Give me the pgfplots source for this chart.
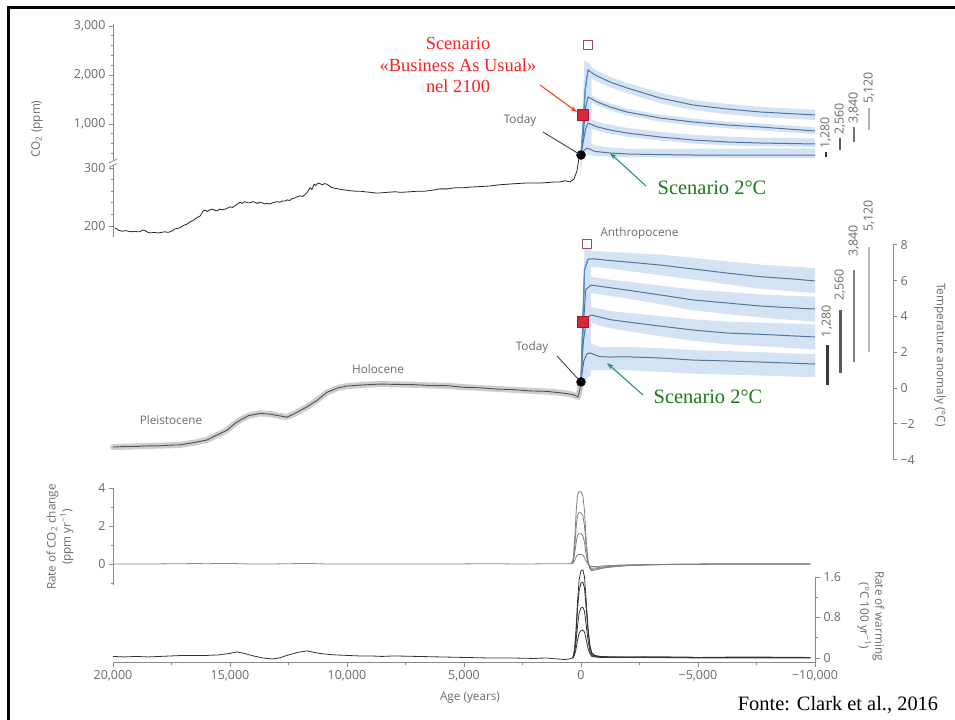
\documentclass[border=0pt]{standalone}
\usepackage{pgfplots}
\pgfplotsset{compat=1.18}
\usepackage{fontspec}
\setmainfont{Liberation Serif}
\newfontfamily\sansax{Open Sans}
\usetikzlibrary{arrows.meta}

\definecolor{axgray}{HTML}{8A8A8A}
\definecolor{labgray}{HTML}{6B6B6B}
\definecolor{scen}{HTML}{52739C}
\definecolor{band}{HTML}{D4E3F4}
\definecolor{risecol}{HTML}{4A8FDB}
\definecolor{redsq}{HTML}{D8283A}
\definecolor{redsqedge}{HTML}{A01828}
\definecolor{hollowsq}{HTML}{A0505C}
\definecolor{tealarrow}{HTML}{2E8A90}
\definecolor{greentxt}{HTML}{1A7A1A}
\definecolor{redtxt}{HTML}{FF1F1F}
\definecolor{redarrow}{HTML}{F2461E}
\definecolor{histband}{HTML}{CDCDCD}
\definecolor{histline}{HTML}{505050}

\newcommand{\tickfont}{\sansax\fontsize{12.5}{14}\selectfont}
\newcommand{\labfont}{\sansax\fontsize{11.8}{15}\selectfont}
\newcommand{\annfont}{\fontsize{18.5}{22}\selectfont}
\newcommand{\grfont}{\fontsize{20.5}{24}\selectfont}

\pgfplotsset{
  panel/.style={scale only axis, width=702bp, xmin=-20000, xmax=10000, clip=false, anchor=south west,
    axis line style={axgray, line width=0.8bp},
    tick style={axgray, line width=0.7bp},
    tick align=outside, major tick length=4bp, minor tick length=2.5bp,
    tick label style={font=\tickfont, text=labgray},
    scaled x ticks=false, scaled y ticks=false,
    /pgf/number format/assume math mode=true},
  /pgfplots/table/co2/.style={/pgfplots/table/x expr=-\thisrow{age},
    /pgfplots/table/y expr={\thisrow{ppm}<300.5 ? (\thisrow{ppm}-200)*0.58 : 53+0.049*\thisrow{ppm}}},
  /pgfplots/table/ag/.style={/pgfplots/table/x expr=-\thisrow{age}, /pgfplots/table/y=#1},
}

\begin{document}
\begin{tikzpicture}
\useasboundingbox (0,0) rectangle (955bp,720bp);
\fill[white] (0,0) rectangle (955bp,720bp);

%================ Panel 1: CO2 ================
\begin{axis}[panel, at={(113bp,483bp)}, height=213bp, ymin=-11, ymax=202,
  axis x line=none, axis y line*=left,
  ytick={0,58,102,151,200}, yticklabels={200,300,{1,000},{2,000},{3,000}},
  minor ytick={11.6,23.2,34.8,46.4,72.6,82.4,92.2,111.8,121.6,131.4,141.2,160.8,170.6,180.4,190.2}]
% bands
\addplot[fill=band, draw=none] table[co2] {
age ppm
-200 2250
-299 2210
-600 2110
-1240 1960
-1966 1840
-3376 1640
-4786 1490
-6239 1410
-7650 1350
-10000 1290
-10000 1080
-7650 1140
-6239 1200
-4786 1285
-3376 1425
-1966 1630
-1240 1750
-600 1890
-299 1990
-200 1900
};
\addplot[fill=band, draw=none] table[co2] {
age ppm
-200 1450
-299 1620
-700 1520
-1240 1420
-1966 1315
-3376 1190
-4786 1110
-6239 1050
-7650 1010
-10000 930
-10000 790
-7650 870
-6239 910
-4786 970
-3376 1050
-1966 1175
-1240 1280
-700 1380
-299 1480
-200 1250
};
\addplot[fill=band, draw=none] table[co2] {
age ppm
-200 1000
-299 1120
-700 1040
-1240 985
-1966 920
-3376 840
-4786 780
-6239 745
-7650 720
-10000 705
-10000 530
-7650 545
-6239 565
-4786 600
-3376 665
-1966 740
-1240 800
-700 860
-299 930
-200 800
};
\addplot[fill=band, draw=none] table[co2] {
age ppm
-150 560
-256 620
-600 560
-1240 520
-1966 500
-3376 495
-4786 495
-7650 500
-10000 505
-10000 310
-7650 310
-4786 312
-3376 315
-1966 320
-1240 330
-600 345
-256 380
-150 340
};
\addplot[fill=band, draw=none] table[co2] {
age ppm
30 285
-60 1200
-150 2300
-450 2200
-450 450
-100 340
0 300
};
% historical CO2
\addplot[color=black!85, line width=0.8bp] table[co2] {
age ppm
19915 197
19786 193
19615 191
19450 192
19359 191
19200 190
19103 191
18950 190
18846 190
18720 193
18632 192
18500 189
18419 188
18250 189
18077 188
17930 189
17778 190
17650 189
17564 190
17450 192
17350 195
17237 196
17137 197
17030 200
16923 202
16800 204
16709 207
16600 209
16496 212
16390 215
16282 217
16200 222
16154 226
16050 227
15960 225
15855 228
15750 229
15650 227
15556 226
15450 229
15340 228
15214 229
15100 231
15000 233
14890 232
14786 235
14680 238
14573 241
14470 239
14380 242
14231 240
14130 240
14030 242
13932 241
13830 239
13732 241
13632 240
13520 238
13400 239
13291 238
13180 240
13090 241
12991 242
12880 241
12760 243
12650 243
12550 245
12450 244
12350 247
12250 248
12150 250
12009 252
11900 251
11795 254
11700 258
11581 266
11500 263
11410 272
11330 270
11239 274
11150 273
11068 271
10960 273
10855 272
10750 269
10641 266
10520 265
10385 264
10240 263
10085 262
9900 261
9658 260
9450 260
9231 259
9000 258
8800 257
8590 257
8300 258
7949 259
7700 258
7308 259
7000 260
6667 260
6300 262
6026 264
5700 264
5385 266
5000 266
4744 267
4300 268
3889 269
3500 271
3162 272
2800 273
2393 274
2000 274
1752 274
1400 275
1111 276
900 276
684 278
470 276
299 281
171 295
85 320
0 367
};
% scenario curves
\addplot[scen, line width=1bp] table[co2] {
age ppm
0 367
-80 900
-180 1700
-299 2102
-600 2000
-1240 1857
-1966 1735
-3376 1531
-4786 1388
-6239 1306
-7650 1245
-10000 1184
};
\addplot[scen, line width=1bp] table[co2] {
age ppm
0 367
-100 800
-200 1350
-299 1551
-700 1450
-1240 1347
-1966 1245
-3376 1122
-4786 1041
-6239 980
-7650 939
-10000 857
};
\addplot[scen, line width=1bp] table[co2] {
age ppm
0 367
-100 650
-200 900
-299 1020
-700 940
-1240 878
-1966 816
-3376 735
-4786 673
-6239 633
-7650 612
-10000 592
};
\addplot[scen, line width=1bp] table[co2] {
age ppm
0 367
-100 450
-256 510
-600 440
-1240 408
-1966 388
-3376 375
-4786 367
-7650 365
-10000 365
};
\addplot[risecol, line width=1.2bp] table[co2] {
age ppm
0 367
-80 900
-180 1700
-299 2102
};
% markers
\addplot[only marks, mark=square*, mark size=5.5bp, mark options={fill=redsq, draw=redsqedge, line width=0.6bp}] table[co2] {
age ppm
-85 1184
};
\addplot[only marks, mark=square, mark size=4.8bp, mark options={draw=hollowsq, line width=1.2bp}] table[co2] {
age ppm
-299 2612
};
\addplot[only marks, mark=*, mark size=4.5bp, mark options={fill=black, draw=black}] table[co2] {
age ppm
0 367
};
% emission labels (bars)
\addplot[color=black!80, line width=2.2bp] coordinates {(10453,69) (10453,74)};
\addplot[color=black!65, line width=2.2bp] coordinates {(11068,76) (11068,88)};
\addplot[color=black!55, line width=2bp] coordinates {(11667,84) (11667,99)};
\addplot[color=black!30, line width=1.5bp] coordinates {(12308,96) (12308,118)};
\node[rotate=90, anchor=west, font=\tickfont, text=labgray, inner sep=1bp] at (axis cs:10453,76) {1,280};
\node[rotate=90, anchor=west, font=\tickfont, text=labgray, inner sep=1bp] at (axis cs:11068,90) {2,560};
\node[rotate=90, anchor=west, font=\tickfont, text=labgray, inner sep=1bp] at (axis cs:11667,101) {3,840};
\node[rotate=90, anchor=west, font=\tickfont, text=labgray, inner sep=1bp] at (axis cs:12308,121) {5,120};
\end{axis}

%================ Panel 2: Temperature ================
\begin{axis}[panel, at={(113bp,260.4bp)}, width=780bp, xmax=13333.3, height=214.8bp, ymin=-4, ymax=8,
  axis x line=none, axis y line*=right,
  ytick={-4,-2,0,2,4,6,8}, yticklabels={−4,−2,0,2,4,6,8}]
% historical band + line
\addplot[histband, line width=6bp, line join=round, line cap=round] table[ag=T] {
age T
20000 -3.30
19500 -3.28
19000 -3.26
18500 -3.24
18000 -3.22
17500 -3.20
17137 -3.18
16500 -3.05
16000 -2.90
15500 -2.60
15128 -2.35
14800 -2.00
14573 -1.79
14200 -1.55
13718 -1.42
13291 -1.45
12900 -1.55
12564 -1.62
12200 -1.40
11709 -1.06
11300 -0.70
10855 -0.25
10400 0.00
10000 0.10
9300 0.18
8590 0.22
7900 0.20
7180 0.18
6500 0.15
5726 0.12
5000 0.05
4316 0.00
3600 -0.05
2906 -0.10
2200 -0.15
1453 -0.20
800 -0.27
342 -0.38
128 -0.50
50 -0.10
0 0.34
};
\addplot[histline, line width=0.9bp] table[ag=T] {
age T
20000 -3.30
19500 -3.27
19000 -3.27
18500 -3.23
18000 -3.23
17500 -3.19
17137 -3.18
16500 -3.04
16000 -2.91
15500 -2.59
15128 -2.36
14800 -1.99
14573 -1.80
14200 -1.54
13718 -1.42
13291 -1.46
12900 -1.55
12564 -1.63
12200 -1.40
11709 -1.05
11300 -0.71
10855 -0.24
10400 0.00
10000 0.11
9300 0.17
8590 0.22
7900 0.20
7180 0.19
6500 0.14
5726 0.13
5000 0.04
4316 0.01
3600 -0.06
2906 -0.09
2200 -0.16
1453 -0.19
800 -0.28
342 -0.37
128 -0.50
50 -0.10
0 0.34
};
% scenario bands
\addplot[fill=band, draw=none] table[ag=T] {
age T
-200 7.70
-513 7.67
-1240 7.60
-1966 7.55
-3376 7.45
-4786 7.27
-6239 7.07
-7650 6.90
-10000 6.70
-10000 5.30
-7650 5.55
-6239 5.80
-4786 6.06
-3376 6.30
-1966 6.55
-1240 6.67
-513 6.77
-200 6.70
};
\addplot[fill=band, draw=none] table[ag=T] {
age T
-250 6.20
-430 6.20
-1240 6.05
-1966 5.95
-3376 5.72
-4786 5.50
-6239 5.37
-7650 5.22
-10000 5.10
-10000 3.70
-7650 3.94
-6239 4.13
-4786 4.34
-3376 4.68
-1966 5.00
-1240 5.15
-430 5.30
-250 5.00
};
\addplot[fill=band, draw=none] table[ag=T] {
age T
-250 4.50
-430 4.53
-1240 4.30
-1966 4.20
-3376 4.02
-4786 3.84
-6239 3.70
-7650 3.66
-10000 3.55
-10000 2.15
-7650 2.34
-6239 2.44
-4786 2.64
-3376 2.90
-1966 3.18
-1240 3.34
-430 3.63
-250 3.30
};
\addplot[fill=band, draw=none] table[ag=T] {
age T
-250 2.45
-385 2.51
-800 2.30
-1240 2.28
-1966 2.29
-3376 2.23
-4786 2.11
-6239 2.06
-7650 2.00
-10000 1.89
-10000 0.60
-7650 0.70
-6239 0.75
-4786 0.80
-3376 0.90
-1966 1.00
-1240 1.00
-385 1.00
-250 0.80
};
\addplot[fill=band, draw=none] table[ag=T] {
age T
30 0.00
-60 4.00
-150 7.75
-420 7.80
-420 0.70
-120 0.40
0 0.10
};
% scenario curves
\addplot[scen, line width=1bp] table[ag=T] {
age T
0 0.34
-60 3.0
-150 6.6
-300 7.2
-513 7.22
-1240 7.12
-1966 7.04
-3376 6.87
-4786 6.65
-6239 6.42
-7650 6.22
-9060 6.09
-10000 5.98
};
\addplot[scen, line width=1bp] table[ag=T] {
age T
0 0.34
-80 3.0
-200 5.5
-430 5.75
-1240 5.6
-1966 5.47
-3376 5.2
-4786 4.92
-6239 4.75
-7650 4.58
-10000 4.41
};
\addplot[scen, line width=1bp] table[ag=T] {
age T
0 0.34
-100 2.6
-250 3.9
-430 4.08
-1240 3.82
-1966 3.69
-3376 3.46
-4786 3.24
-6239 3.07
-7650 3.0
-10000 2.85
};
\addplot[scen, line width=1bp] table[ag=T] {
age T
0 0.34
-120 1.5
-250 1.9
-385 1.96
-800 1.75
-1240 1.73
-1966 1.74
-3376 1.68
-4786 1.56
-6239 1.51
-7650 1.45
-10000 1.34
};
\addplot[risecol, line width=1.2bp] table[ag=T] {
age T
0 0.34
-60 3.0
-150 6.6
-300 7.2
};
% markers
\addplot[only marks, mark=square*, mark size=5.5bp, mark options={fill=redsq, draw=redsqedge, line width=0.6bp}] table[ag=T] {
age T
-85 3.69
};
\addplot[only marks, mark=square, mark size=4.8bp, mark options={draw=hollowsq, line width=1.2bp}] table[ag=T] {
age T
-256 8.04
};
\addplot[only marks, mark=*, mark size=4.5bp, mark options={fill=black, draw=black}] table[ag=T] {
age T
0 0.34
};
% emission bars
\addplot[color=black!78, line width=3bp] coordinates {(10513,0.17) (10513,2.40)};
\addplot[color=black!65, line width=3bp] coordinates {(11068,0.84) (11068,4.36)};
\addplot[color=black!50, line width=2.6bp] coordinates {(11667,1.45) (11667,6.59)};
\addplot[color=black!28, line width=2.2bp] coordinates {(12308,2.01) (12308,7.88)};
\node[rotate=90, anchor=west, font=\tickfont, text=labgray, inner sep=1bp] at (axis cs:10513,2.78) {1,280};
\node[rotate=90, anchor=west, font=\tickfont, text=labgray, inner sep=1bp] at (axis cs:11068,4.80) {2,560};
\node[rotate=90, anchor=west, font=\tickfont, text=labgray, inner sep=1bp] at (axis cs:11667,7.26) {3,840};
\node[rotate=90, anchor=west, font=\tickfont, text=labgray, inner sep=1bp] at (axis cs:12308,8.66) {5,120};
\end{axis}

%================ Panel 3: rate of CO2 change ================
\begin{axis}[panel, at={(113bp,135bp)}, height=96.9bp, ymin=-1.1, ymax=4,
  axis x line=none, axis y line*=left, ytick={0,2,4}, minor ytick={-1,1,3}]
\addplot[black!45, line width=0.8bp] table[ag=r] {
age r
20000 0
19000 0
18000 0.01
17000 0.02
16500 0.03
16000 0.02
15500 0.03
15000 0.03
14500 0.02
14000 0.0
13500 0.01
13000 0.01
12500 0.02
12000 0.03
11500 0.03
11000 0.01
10000 0.0
9000 0.01
8000 0.0
7000 0.01
6000 0.01
5000 0.01
4000 0.02
3000 0.01
2000 0.01
1000 0.02
500 0.02
400 0.03
};
\addplot[black!50, line width=0.8bp] table[ag=r] {
age r
400 0.03
330 0.3
260 1.5
200 2.9
150 3.6
100 3.8
0 3.8
-80 3.6
-150 2.8
-220 1.3
-300 0.2
-380 -0.25
-450 -0.35
-550 -0.32
-700 -0.28
-1000 -0.2
-1500 -0.13
-2000 -0.08
-3000 -0.04
-4000 -0.02
-5500 0
-9800 0
};
\addplot[black!50, line width=0.8bp] table[ag=r] {
age r
400 0.03
330 0.22
260 1.05
200 2.05
150 2.55
100 2.7
0 2.7
-80 2.55
-150 2.0
-220 0.9
-300 0.1
-380 -0.2
-450 -0.28
-550 -0.27
-700 -0.24
-1000 -0.17
-1500 -0.11
-2000 -0.07
-3000 -0.035
-4000 -0.015
-5500 0
-9800 0
};
\addplot[black!50, line width=0.8bp] table[ag=r] {
age r
400 0.03
330 0.14
260 0.65
200 1.2
150 1.5
100 1.6
0 1.6
-80 1.5
-150 1.15
-220 0.5
-300 0.05
-380 -0.15
-450 -0.22
-550 -0.21
-700 -0.19
-1000 -0.14
-1500 -0.09
-2000 -0.06
-3000 -0.03
-4000 -0.01
-5500 0
-9800 0
};
\addplot[black!50, line width=0.8bp] table[ag=r] {
age r
400 0.03
330 0.06
260 0.22
200 0.4
150 0.48
100 0.5
0 0.5
-80 0.47
-150 0.35
-220 0.15
-300 0.0
-380 -0.09
-450 -0.13
-550 -0.13
-700 -0.12
-1000 -0.09
-1500 -0.06
-2000 -0.04
-3000 -0.02
-4000 -0.01
-5500 0
-9800 0
};
\end{axis}

%================ Panel 4: rate of warming ================
\begin{axis}[panel, at={(113bp,58bp)}, height=85bp, ymin=-0.08, ymax=1.6,
  axis x line*=bottom, axis y line*=right,
  ytick={0,0.8,1.6}, yticklabels={0,0.8,1.6}, minor ytick={0.4,1.2},
  xtick={-20000,-15000,-10000,-5000,0,5000,10000},
  xticklabels={{20,000},{15,000},{10,000},{5,000},0,{−5,000},{−10,000}},
  minor xtick={-17500,-12500,-7500,-2500,2500,7500}, major tick length=5bp]
\addplot[black!80, line width=0.8bp] table[ag=w] {
age w
20000 0.03
19500 0.02
19000 0.03
18500 0.02
18000 0.03
17500 0.04
17000 0.05
16500 0.05
16000 0.05
15500 0.06
15000 0.09
14700 0.12
14400 0.09
14000 0.04
13600 0.0
13200 -0.02
12900 0.0
12500 0.06
12100 0.11
11700 0.14
11300 0.10
11000 0.08
10500 0.06
10000 0.05
9500 0.04
9000 0.04
8500 0.03
8000 0.04
7000 0.03
6000 0.02
5000 0.01
4000 0.0
3000 0.0
2000 -0.01
1500 0.0
1000 -0.02
700 -0.03
500 -0.02
350 0.0
};
\addplot[black!80, line width=0.8bp] table[ag=w] {
age w
350 0.0
280 0.15
220 0.5
150 1.1
80 1.55
0 1.72
-80 1.74
-150 1.6
-220 1.15
-300 0.6
-380 0.25
-460 0.1
-600 0.05
-800 0.03
-1200 0.02
-2000 0.02
-3000 0.015
-5000 0.01
-7000 0.01
-9800 0.01
};
\addplot[black!80, line width=0.8bp] table[ag=w] {
age w
350 0.0
280 0.13
220 0.43
150 0.95
80 1.33
0 1.48
-80 1.5
-150 1.38
-220 0.99
-300 0.52
-380 0.22
-460 0.09
-600 0.04
-800 0.03
-1200 0.02
-2000 0.02
-3000 0.02
-5000 0.01
-7000 0.02
-9800 0.01
};
\addplot[black!80, line width=0.8bp] table[ag=w] {
age w
350 0.0
280 0.09
220 0.29
150 0.63
80 0.89
0 0.99
-80 1.0
-150 0.92
-220 0.66
-300 0.35
-380 0.14
-460 0.06
-600 0.03
-800 0.02
-1200 0.02
-2000 0.01
-3000 0.02
-5000 0.01
-7000 0.01
-9800 0.01
};
\addplot[black!80, line width=0.8bp] table[ag=w] {
age w
350 0.0
280 0.05
220 0.16
150 0.35
80 0.49
0 0.54
-80 0.55
-150 0.51
-220 0.36
-300 0.19
-380 0.08
-460 0.03
-600 0.02
-800 0.01
-1200 0.01
-2000 0.01
-3000 0.01
-5000 0.0
-9800 0.0
};
\end{axis}

%================ annotations ================
% axis break on CO2 axis
\fill[white] (110bp,554.5bp) rectangle (116bp,559.5bp);
\draw[axgray, line width=0.7bp] (109bp,552.5bp) -- (117bp,556.5bp);
\draw[axgray, line width=0.7bp] (109bp,557bp) -- (117bp,561bp);

% axis titles
\node[rotate=90, font=\labfont, text=labgray] at (37bp,591bp) {CO\textsubscript{2} (ppm)};
\node[rotate=-90, font=\labfont, text=labgray] at (940bp,365bp) {Temperature anomaly (°C)};
\node[rotate=90, align=center, font=\labfont, text=labgray] at (60bp,183bp) {Rate of CO\textsubscript{2} change\\(ppm yr\textsuperscript{−1})};
\node[rotate=-90, align=center, font=\labfont, text=labgray] at (871bp,104bp) {Rate of warming\\(°C 100 yr\textsuperscript{−1})};
\node[font=\labfont, text=labgray] at (470bp,22bp) {Age (years)};

% period names
\node[font=\labfont, text=labgray, anchor=west] at (597bp,487bp) {Anthropocene};
\node[font=\labfont, text=labgray] at (378bp,351bp) {Holocene};
\node[font=\labfont, text=labgray] at (171bp,300bp) {Pleistocene};

% Today pointers
\node[font=\labfont, text=labgray] at (520bp,600bp) {Today};
\draw[black!75, line width=0.9bp] (543bp,588bp) -- (579bp,566bp);
\node[font=\labfont, text=labgray] at (532bp,373bp) {Today};
\draw[black!75, line width=0.9bp] (557bp,364bp) -- (579bp,340bp);

% red annotation
\node[align=center, font=\annfont, text=redtxt] at (458bp,655bp) {Scenario\\«Business As Usual»\\nel 2100};
\draw[redarrow, line width=1.1bp, -{Stealth[length=7bp,width=5bp]}] (540bp,635bp) -- (577bp,608bp);

% green annotations
\node[font=\grfont, text=greentxt] at (712bp,532bp) {Scenario 2°C};
\draw[tealarrow, line width=1.1bp, -{Stealth[length=7bp,width=5bp]}] (646bp,534bp) -- (610bp,567bp);
\node[font=\grfont, text=greentxt] at (708bp,323bp) {Scenario 2°C};
\draw[tealarrow, line width=1.1bp, -{Stealth[length=7bp,width=5bp]}] (643bp,325bp) -- (607bp,357bp);

% source
\node[font=\grfont, text=black] at (838bp,15bp) {Fonte: Clark et al., 2016};

% frame
\draw[black, line width=2.7bp] (8.7bp,-5bp) -- (8.7bp,712.5bp) -- (965bp,712.5bp);
\end{tikzpicture}
\end{document}
